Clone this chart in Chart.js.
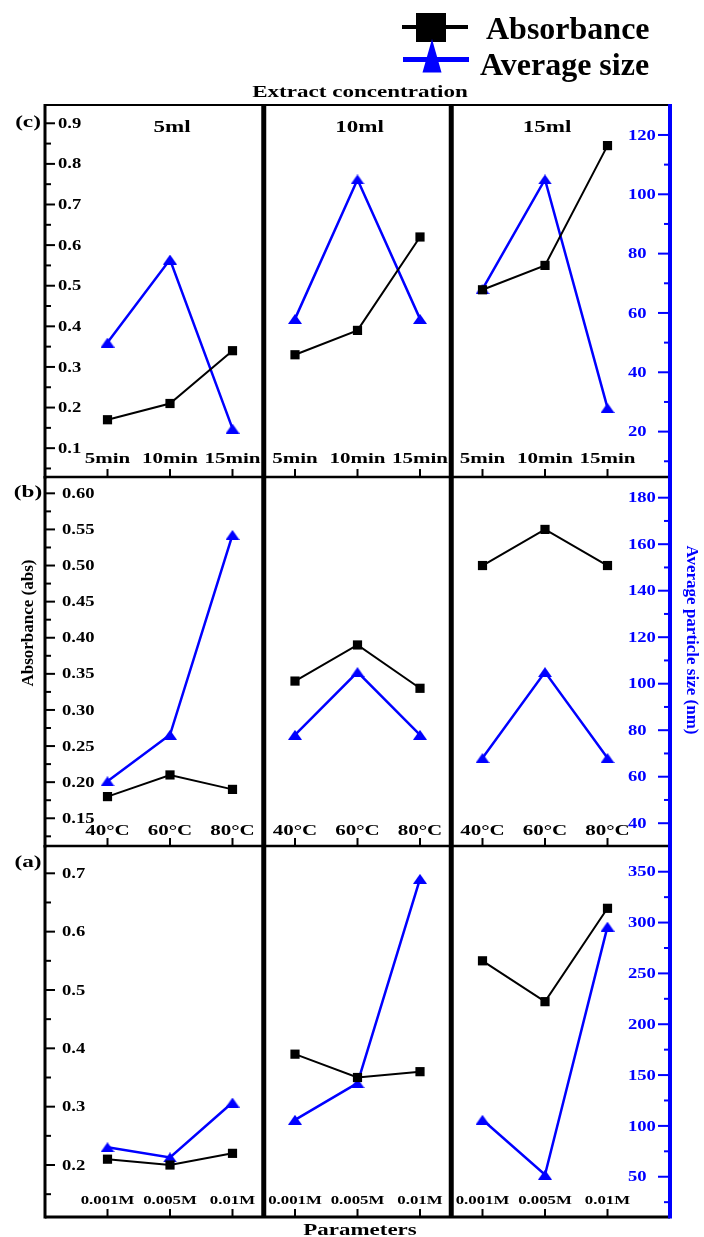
<!DOCTYPE html>
<html>
<head>
<meta charset="utf-8">
<script src="https://cdn.jsdelivr.net/npm/chart.js@4.4.1/dist/chart.umd.min.js"></script>
<style>
  html, body { margin: 0; padding: 0; background: #fff; }
  #wrap { position: relative; width: 704px; height: 1237px; }
  #wrap canvas { position: absolute; left: 0; top: 0; }
</style>
</head>
<body>
<div id="wrap">
  <canvas id="rowC" width="704" height="1237"></canvas>
  <canvas id="rowB" width="704" height="1237"></canvas>
  <canvas id="rowA" width="704" height="1237"></canvas>
</div>
<script>
// ---- categories ----
const extractVolumes = ['5ml', '10ml', '15ml'];
const timeLabels = ['5min', '10min', '15min'];
const tempLabels = ['40°C', '60°C', '80°C'];
const molarLabels = ['0.001M', '0.005M', '0.01M'];

// ---- (c) reaction time, one inner array per extract volume ----
const absTime = [[0.17, 0.21, 0.34], [0.33, 0.39, 0.62], [0.49, 0.55, 0.845]];
const sizeTime = [[50, 78, 21], [58, 105, 58], [68, 105, 28]];

// ---- (b) temperature ----
const absTemp = [[0.18, 0.21, 0.19], [0.34, 0.39, 0.33], [0.50, 0.55, 0.50]];
const sizeTemp = [[58, 78, 164], [78, 105, 78], [68, 105, 68]];

// ---- (a) metal salt concentration ----
const absConc = [[0.21, 0.20, 0.22], [0.39, 0.35, 0.36], [0.55, 0.48, 0.64]];
const sizeConc = [[79, 69, 123], [106, 142, 343], [106, 52, 296]];

// ---- axis tick labels ----
const absTicksTime = ['0.1', '0.2', '0.3', '0.4', '0.5', '0.6', '0.7', '0.8', '0.9'];
const sizeTicksTime = ['20', '40', '60', '80', '100', '120'];
const absTicksTemp = ['0.15', '0.20', '0.25', '0.30', '0.35', '0.40', '0.45', '0.50', '0.55', '0.60'];
const sizeTicksTemp = ['40', '60', '80', '100', '120', '140', '160', '180'];
const absTicksConc = ['0.2', '0.3', '0.4', '0.5', '0.6', '0.7'];
const sizeTicksConc = ['50', '100', '150', '200', '250', '300', '350'];

// axis extents
const absRangeTime = [0.029, 0.945];
const sizeRangeTime = [4.7, 130.1];
const absRangeTemp = [0.1116, 0.6226];
const sizeRangeTemp = [30.2, 188.9];
const absRangeConc = [0.1109, 0.7468];
const sizeRangeConc = [10.4, 375.3];

// x positions between the three extract-volume groups
const groupBreaks = [3.5, 6.5];

const SERIF = '"Liberation Serif", "Times New Roman", serif';
const BLUE = '#0000ff';
const PAGE_H = 1237;

function drawText(ctx, str, x, y, opt) {
  ctx.save();
  ctx.font = (opt.weight || 'bold') + ' ' + opt.size + 'px ' + SERIF;
  ctx.fillStyle = opt.color || '#000';
  ctx.textAlign = opt.align || 'center';
  ctx.textBaseline = opt.baseline || 'alphabetic';
  ctx.translate(x, y);
  if (opt.rotate) ctx.rotate(opt.rotate);
  ctx.scale(opt.sx || 1, 1);
  ctx.fillText(str, 0, 0);
  ctx.restore();
}

function line(ctx, x1, y1, x2, y2, w, color) {
  ctx.beginPath();
  ctx.strokeStyle = color;
  ctx.lineWidth = w;
  ctx.moveTo(x1, y1);
  ctx.lineTo(x2, y2);
  ctx.stroke();
}

// flat triangle marker used for the particle size series
function triangleMarker(w, h, color) {
  const c = document.createElement('canvas');
  c.width = w; c.height = h;
  const g = c.getContext('2d');
  g.fillStyle = color;
  g.beginPath();
  g.moveTo(w / 2, 0); g.lineTo(w, h); g.lineTo(0, h);
  g.closePath(); g.fill();
  return c;
}
const triImg = triangleMarker(14, 10, BLUE);

// minor ticks: half way between majors, plus half a step beyond each end
function minorValues(major) {
  const step = major[1] - major[0];
  const out = [major[0] - step / 2];
  for (let i = 0; i < major.length - 1; i++) out.push((major[i] + major[i + 1]) / 2);
  out.push(major[major.length - 1] + step / 2);
  return out;
}

function framePlugin(row) {
  return {
    id: 'frame_' + row.id,
    afterDraw(chart) {
      const ctx = chart.ctx;
      const { left, right, top, bottom } = chart.chartArea;
      const xs = chart.scales.x, yA = chart.scales.yAbs, yS = chart.scales.ySize;
      const inside = py => py > top + 3 && py < bottom - 3;
      ctx.save();

      // category ticks (pointing up) and labels
      for (let g = 0; g < 3; g++) {
        row.labels.forEach((lab, i) => {
          const px = xs.getPixelForValue(g * 3 + i + 1);
          line(ctx, px, bottom, px, bottom - 8, 2, '#000');
          drawText(ctx, lab, px, bottom - row.labelLift, { size: row.labelSize, sx: 1.4 });
        });
      }

      // left absorbance axis
      const absMajor = row.absTicks.map(Number);
      absMajor.forEach((v, i) => {
        const py = yA.getPixelForValue(v);
        line(ctx, left, py, left + 10, py, 2, '#000');
        drawText(ctx, row.absTicks[i], left + row.absLabelGap, py + 1,
          { size: 14, sx: 1.33, align: 'left', baseline: 'middle' });
      });
      minorValues(absMajor).forEach(v => {
        const py = yA.getPixelForValue(v);
        if (inside(py)) line(ctx, left, py, left + 6, py, 2, '#000');
      });

      // right particle size axis
      const sizeMajor = row.sizeTicks.map(Number);
      sizeMajor.forEach((v, i) => {
        const py = yS.getPixelForValue(v);
        line(ctx, right - 12, py, right, py, 2, BLUE);
        drawText(ctx, row.sizeTicks[i], 628, py + 1,
          { size: 14, sx: 1.33, align: 'left', baseline: 'middle', color: BLUE });
      });
      minorValues(sizeMajor).forEach(v => {
        const py = yS.getPixelForValue(v);
        if (inside(py)) line(ctx, right - 6, py, right, py, 2, BLUE);
      });

      // frame: group dividers, bottom edge, axes
      groupBreaks.forEach(b => {
        const px = xs.getPixelForValue(b);
        line(ctx, px, top - 1, px, bottom + 1, 5, '#000');
      });
      if (row.drawTop) line(ctx, left, top, right, top, 2, '#000');
      line(ctx, left, bottom, right, bottom, row.bottomWidth, '#000');
      line(ctx, left, top - 1, left, bottom + 1.5, 3, '#000');
      line(ctx, right, top - 1, right, bottom + 1.5, 4, BLUE);

      // panel letter
      drawText(ctx, row.letter, 28, row.letterY, { size: 16, sx: 1.45, baseline: 'middle' });

      if (row.extras) row.extras(ctx, chart);
      ctx.restore();
    }
  };
}

function makeRow(row) {
  const datasets = [];
  for (let g = 0; g < 3; g++) {
    datasets.push({
      data: row.abs[g].map((v, i) => ({ x: g * 3 + i + 1, y: v })),
      yAxisID: 'yAbs',
      borderColor: '#000', backgroundColor: '#000', borderWidth: 2,
      pointStyle: 'rect', pointRadius: 6.5, pointBorderWidth: 0,
      pointBackgroundColor: '#000', tension: 0
    });
    datasets.push({
      data: row.size[g].map((v, i) => ({ x: g * 3 + i + 1, y: v })),
      yAxisID: 'ySize',
      borderColor: BLUE, backgroundColor: BLUE, borderWidth: 2.5,
      pointStyle: triImg, pointRadius: 7, tension: 0
    });
  }
  return new Chart(document.getElementById(row.id), {
    type: 'line',
    data: { datasets: datasets },
    options: {
      responsive: false, animation: false, devicePixelRatio: 1,
      layout: { padding: { left: 45, right: 34, top: row.top, bottom: PAGE_H - row.bottom } },
      scales: {
        x: { type: 'linear', min: 0, max: 10, display: false },
        yAbs: { type: 'linear', position: 'left', min: row.absRange[0], max: row.absRange[1], display: false },
        ySize: { type: 'linear', position: 'right', min: row.sizeRange[0], max: row.sizeRange[1], display: false }
      },
      plugins: { legend: { display: false }, tooltip: { enabled: false } }
    },
    plugins: [framePlugin(row)]
  });
}

// top row: legend, super title and volume headers
function topExtras(ctx, chart) {
  // legend
  line(ctx, 402, 27, 468, 27, 4, '#000');
  ctx.fillStyle = '#000';
  ctx.fillRect(416, 13, 30, 29);
  line(ctx, 403, 59.5, 469, 59.5, 5, BLUE);
  ctx.fillStyle = BLUE;
  ctx.beginPath();
  ctx.moveTo(432, 39); ctx.lineTo(441.5, 72.5); ctx.lineTo(422.5, 72.5);
  ctx.closePath(); ctx.fill();
  drawText(ctx, 'Absorbance', 486, 39, { size: 32, align: 'left' });
  drawText(ctx, 'Average size', 480, 75, { size: 32, align: 'left' });

  drawText(ctx, 'Extract concentration', 360, 97, { size: 16, sx: 1.44 });
  const xs = chart.scales.x;
  extractVolumes.forEach((v, g) => {
    drawText(ctx, v, xs.getPixelForValue(g * 3 + 2) + 2, 132, { size: 16, sx: 1.44 });
  });
}

function middleExtras(ctx) {
  drawText(ctx, 'Absorbance (abs)', 33, 623, { size: 17, rotate: -Math.PI / 2 });
  drawText(ctx, 'Average particle size (nm)', 687, 640, { size: 17, rotate: Math.PI / 2, color: BLUE });
}

function bottomExtras(ctx) {
  drawText(ctx, 'Parameters', 360, 1235, { size: 17, sx: 1.35 });
}

makeRow({
  id: 'rowC', top: 105, bottom: 477, drawTop: true, bottomWidth: 2.5,
  abs: absTime, size: sizeTime, labels: timeLabels, labelSize: 15, labelLift: 14,
  absTicks: absTicksTime, sizeTicks: sizeTicksTime, absLabelGap: 13,
  absRange: absRangeTime, sizeRange: sizeRangeTime,
  letter: '(c)', letterY: 123, extras: topExtras
});
makeRow({
  id: 'rowB', top: 477, bottom: 846, drawTop: false, bottomWidth: 2.5,
  abs: absTemp, size: sizeTemp, labels: tempLabels, labelSize: 15, labelLift: 11,
  absTicks: absTicksTemp, sizeTicks: sizeTicksTemp, absLabelGap: 17,
  absRange: absRangeTemp, sizeRange: sizeRangeTemp,
  letter: '(b)', letterY: 493, extras: middleExtras
});
makeRow({
  id: 'rowA', top: 846, bottom: 1217, drawTop: false, bottomWidth: 3,
  abs: absConc, size: sizeConc, labels: molarLabels, labelSize: 12, labelLift: 13,
  absTicks: absTicksConc, sizeTicks: sizeTicksConc, absLabelGap: 17,
  absRange: absRangeConc, sizeRange: sizeRangeConc,
  letter: '(a)', letterY: 863, extras: bottomExtras
});
</script>
</body>
</html>
